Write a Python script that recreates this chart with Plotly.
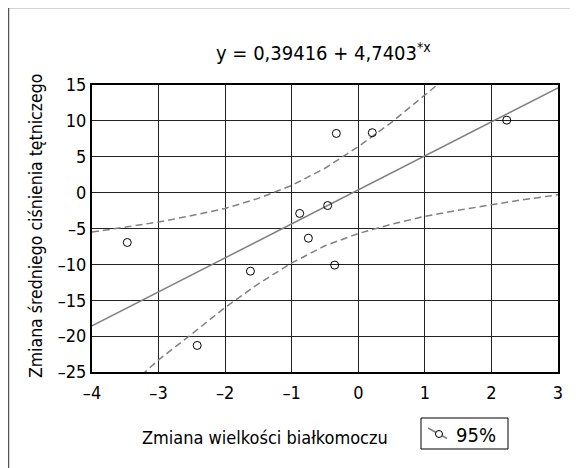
import plotly.graph_objects as go

# Data points
pts_x = [-3.47, -2.42, -1.62, -0.88, -0.75, -0.46, -0.33, -0.355, 0.21, 2.23]
pts_y = [-6.95, -21.3, -10.95, -2.9, -6.35, -1.8, 8.25, -10.1, 8.35, 10.1]

# Regression line (y = 0,39416 + 4,7403*x) read at the axis ends
fit_x = [-4, 3]
fit_y = [-18.57, 14.61]

# 95% confidence band
up_x = [-4, -3.5, -3, -2.5, -2, -1.5, -1, -0.5, 0, 0.5, 1, 1.5]
up_y = [-5.5, -4.85, -4.1, -3.2, -2.2, -0.8, 1.0, 3.4, 6.4, 9.8, 13.5, 17.4]
lo_x = [-3.5, -3, -2.5, -2, -1.5, -1, -0.5, 0, 0.5, 1, 1.5, 2, 2.5, 3]
lo_y = [-27.5, -23.3, -19.7, -16.0, -12.7, -9.8, -7.4, -5.7, -4.4, -3.3, -2.45, -1.65, -0.95, -0.3]

x_ticks = [-4, -3, -2, -1, 0, 1, 2, 3]
x_ticktext = ["–4", "–3", "–2", "–1", "0", "1", "2", "3"]
y_ticks = [-25, -20, -15, -10, -5, 0, 5, 10, 15]
y_ticktext = ["–25", "–20", "–15", "–10", "–5", "0", "5", "10", "15"]

title_text = "y = 0,39416 + 4,7403<sup>*x</sup>"
x_title = "Zmiana wielkości białkomoczu"
y_title = "Zmiana średniego ciśnienia tętniczego"
legend_label = "95%"

FONT = "Liberation Sans Narrow, DejaVu Sans Condensed, Arial Narrow, sans-serif"
GRAY = "#808080"

# layout geometry (page pixels; the page body adds an 8px offset)
W, H = 570, 460
ML, MR, MT, MB = 84, 20, 77, 96
PL = 8 + ML
PT = 8 + MT
PW = W - ML - MR
PH = H - MT - MB


def px(xp):
    return (xp - PL) / PW


def py(yp):
    return (PT + PH - yp) / PH


fig = go.Figure()
fig.add_trace(go.Scatter(x=fit_x, y=fit_y, mode="lines",
                         line=dict(color=GRAY, width=1.5), showlegend=False, hoverinfo="skip"))
fig.add_trace(go.Scatter(x=up_x, y=up_y, mode="lines",
                         line=dict(color=GRAY, width=1.5, dash="7px,4px"), showlegend=False))
fig.add_trace(go.Scatter(x=lo_x, y=lo_y, mode="lines",
                         line=dict(color=GRAY, width=1.5, dash="7px,4px"), showlegend=False))
fig.add_trace(go.Scatter(x=pts_x, y=pts_y, mode="markers",
                         marker=dict(symbol="circle-open", size=8, color="black", line=dict(width=1)),
                         showlegend=False))

shapes = [
    # outer frame of the figure
    dict(type="rect", xref="paper", yref="paper", x0=px(8.5), x1=px(640), y0=py(530), y1=py(7.5),
         line=dict(color="#555", width=1.5), fillcolor="rgba(0,0,0,0)", layer="below"),
    # legend box
    dict(type="rect", xref="paper", yref="paper", x0=px(421), x1=px(508), y0=py(449), y1=py(418),
         line=dict(color="black", width=1), fillcolor="white"),
    # legend symbol
    dict(type="line", xref="paper", yref="paper", x0=px(428), x1=px(447), y0=py(428), y1=py(438.5),
         line=dict(color=GRAY, width=1.5)),
    dict(type="circle", xref="paper", yref="paper", x0=px(435.5), x1=px(442.5), y0=py(437.5), y1=py(430.5),
         line=dict(color="black", width=1), fillcolor="white"),
]

fig.update_layout(
    width=W, height=H,
    margin=dict(l=ML, r=MR, t=MT, b=MB),
    paper_bgcolor="white", plot_bgcolor="white",
    font=dict(family=FONT, size=17, color="black"),
    showlegend=False,
    xaxis=dict(range=[-4, 3], tickvals=x_ticks, ticktext=x_ticktext,
               showgrid=True, gridcolor="#222", gridwidth=1.2,
               showline=True, linecolor="black", linewidth=2, mirror=True,
               zeroline=False, ticks="", tickfont=dict(size=18), ticklabelstandoff=3,
               fixedrange=True),
    yaxis=dict(range=[-25, 15], tickvals=y_ticks, ticktext=y_ticktext,
               showgrid=True, gridcolor="#222", gridwidth=1.2,
               showline=True, linecolor="black", linewidth=2, mirror=True,
               zeroline=False, ticks="", tickfont=dict(size=18), fixedrange=True),
    annotations=[
        dict(text=title_text, xref="paper", yref="paper", x=px(323), y=py(52),
             showarrow=False, font=dict(size=20), xanchor="center", yanchor="middle"),
        dict(text=x_title, xref="paper", yref="paper", x=px(265), y=py(438),
             showarrow=False, font=dict(size=18), xanchor="center", yanchor="middle"),
        dict(text=y_title, xref="paper", yref="paper", x=px(36), y=py(226), textangle=-90,
             showarrow=False, font=dict(size=17.5), xanchor="center", yanchor="middle"),
        dict(text=legend_label, xref="paper", yref="paper", x=px(476), y=py(435),
             showarrow=False, font=dict(size=20), xanchor="center", yanchor="middle"),
    ],
    shapes=shapes,
)

fig.write_html("out.html")
